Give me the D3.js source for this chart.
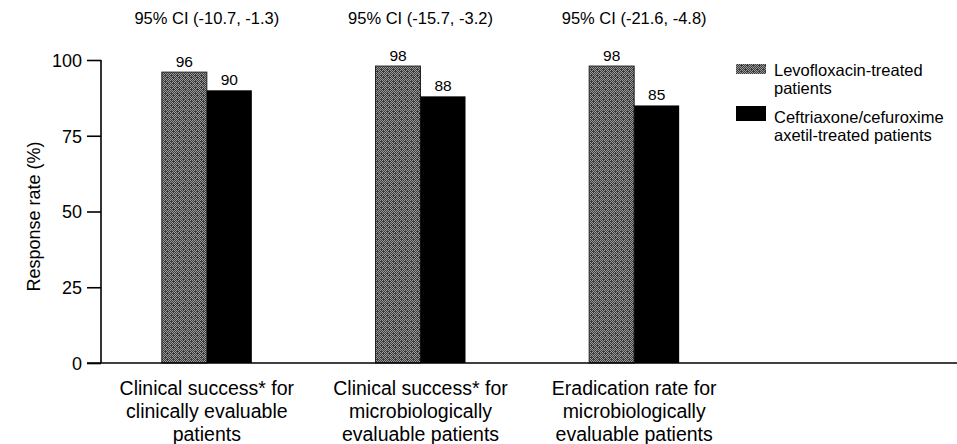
<!DOCTYPE html>
<html>
<head>
<meta charset="utf-8">
<script src="https://cdn.jsdelivr.net/npm/d3@7"></script>
<style>
  body { margin: 0; background: #fff; }
  svg { display: block; font-family: "Liberation Sans", Arial, sans-serif; }
  .axis path, .axis line { stroke: #000; stroke-width: 1.6; }
  .axis text { font-size: 18px; fill: #000; }
</style>
</head>
<body>
<script>
(function() {
  var width = 957;
  var height = 444;

  var categories = [
    ['Clinical success* for', 'clinically evaluable', 'patients'],
    ['Clinical success* for', 'microbiologically', 'evaluable patients'],
    ['Eradication rate for', 'microbiologically', 'evaluable patients']
  ];
  var ciLabels = ['95% CI (-10.7, -1.3)', '95% CI (-15.7, -3.2)', '95% CI (-21.6, -4.8)'];
  var levofloxacin = [96, 98, 98];
  var comparator = [90, 88, 85];
  var yTicks = [0, 25, 50, 75, 100];
  var seriesNames = [
    ['Levofloxacin-treated', 'patients'],
    ['Ceftriaxone/cefuroxime', 'axetil-treated patients']
  ];

  var svg = d3.select('body')
    .append('svg')
    .attr('width', width)
    .attr('height', height);

  // dithered grey fill like the printed figure
  var pat = svg.append('defs')
    .append('pattern')
    .attr('id', 'dither')
    .attr('patternUnits', 'userSpaceOnUse')
    .attr('width', 6)
    .attr('height', 6);
  pat.append('rect').attr('width', 6).attr('height', 6).attr('fill', '#3a3a3a');
  [[0, 0], [2, 0], [4, 0], [1, 1], [3, 1], [5, 1], [0, 2], [2, 2], [4, 2],
   [1, 3], [5, 3], [0, 4], [2, 4], [4, 4], [1, 5], [3, 5]].forEach(function(p) {
    pat.append('rect')
      .attr('x', p[0]).attr('y', p[1])
      .attr('width', 1).attr('height', 1)
      .attr('fill', '#9a9a9a');
  });

  var xScale = d3.scaleBand()
    .domain(d3.range(categories.length))
    .range([100, 741])
    .padding(0);

  var yScale = d3.scaleLinear()
    .domain([0, 100])
    .range([363, 60]);

  var barW = 45;

  // y axis
  var yAxis = d3.axisLeft(yScale)
    .tickValues(yTicks)
    .tickSize(14)
    .tickPadding(5)
    .tickSizeOuter(0);
  svg.append('g')
    .attr('class', 'y axis')
    .attr('transform', 'translate(101, 0)')
    .call(yAxis)
    .call(g => g.select('.domain').remove())
    .call(g => g.selectAll('text').attr('dy', '0.35em'));

  svg.append('line')
    .attr('x1', 101).attr('x2', 101)
    .attr('y1', yScale(100)).attr('y2', yScale(0))
    .attr('stroke', '#000').attr('stroke-width', 1.6);

  svg.append('text')
    .attr('transform', 'translate(40,' + (yScale(50) + 5) + ') rotate(-90)')
    .attr('text-anchor', 'middle')
    .attr('font-size', 18)
    .text('Response rate (%)');

  // bars
  var groups = svg.selectAll('.grp')
    .data(categories)
    .enter()
    .append('g')
    .attr('class', 'grp');

  groups.append('rect')
    .attr('x', (d, i) => xScale(i) + xScale.bandwidth() / 2 - barW)
    .attr('y', (d, i) => yScale(levofloxacin[i]))
    .attr('width', barW)
    .attr('height', (d, i) => yScale(0) - yScale(levofloxacin[i]))
    .attr('fill', 'url(#dither)')
    .attr('stroke', '#222')
    .attr('stroke-width', 1);

  groups.append('rect')
    .attr('x', (d, i) => xScale(i) + xScale.bandwidth() / 2)
    .attr('y', (d, i) => yScale(comparator[i]))
    .attr('width', barW)
    .attr('height', (d, i) => yScale(0) - yScale(comparator[i]))
    .attr('fill', '#000');

  groups.append('text')
    .attr('x', (d, i) => xScale(i) + xScale.bandwidth() / 2 - barW / 2)
    .attr('y', (d, i) => yScale(levofloxacin[i]) - 5)
    .attr('text-anchor', 'middle')
    .attr('font-size', 15.5)
    .text((d, i) => levofloxacin[i]);

  groups.append('text')
    .attr('x', (d, i) => xScale(i) + xScale.bandwidth() / 2 + barW / 2)
    .attr('y', (d, i) => yScale(comparator[i]) - 5)
    .attr('text-anchor', 'middle')
    .attr('font-size', 15.5)
    .text((d, i) => comparator[i]);

  groups.append('text')
    .attr('x', (d, i) => xScale(i) + xScale.bandwidth() / 2)
    .attr('y', 24)
    .attr('text-anchor', 'middle')
    .attr('font-size', 16.5)
    .text((d, i) => ciLabels[i]);

  // category labels
  groups.append('text')
    .attr('text-anchor', 'middle')
    .attr('font-size', 19.5)
    .selectAll('tspan')
    .data((d, i) => d.map(s => ({ s: s, i: i })))
    .enter()
    .append('tspan')
    .attr('x', d => xScale(d.i) + xScale.bandwidth() / 2)
    .attr('y', (d, j) => 395 + j * 23)
    .text(d => d.s);

  // x axis baseline
  svg.append('line')
    .attr('x1', 87).attr('x2', width)
    .attr('y1', yScale(0)).attr('y2', yScale(0))
    .attr('stroke', '#000').attr('stroke-width', 1.6);

  // legend
  var legend = svg.append('g').attr('transform', 'translate(736, 0)');
  legend.append('rect')
    .attr('x', 0).attr('y', 64).attr('width', 30).attr('height', 10)
    .attr('fill', 'url(#dither)');
  legend.append('rect')
    .attr('x', 0).attr('y', 106).attr('width', 30).attr('height', 15)
    .attr('fill', '#000');
  var legY = [76, 123];
  seriesNames.forEach(function(lines, k) {
    legend.append('text')
      .attr('font-size', 16.5)
      .selectAll('tspan')
      .data(lines)
      .enter()
      .append('tspan')
      .attr('x', 38)
      .attr('y', (d, j) => legY[k] + j * 17.5)
      .text(d => d);
  });
})();
</script>
</body>
</html>
